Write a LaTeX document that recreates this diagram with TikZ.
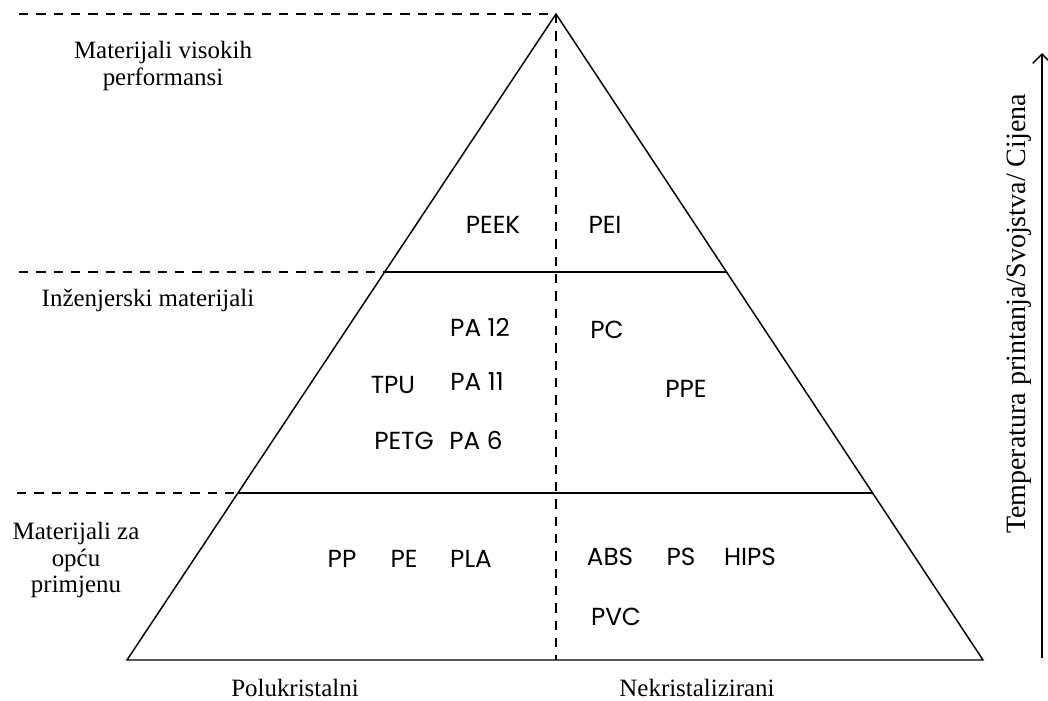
\documentclass[tikz,border=0pt]{standalone}
\usepackage{fontspec}
\setmainfont{Liberation Serif}
\newfontfamily\matfont{Poppins}
\usepackage{tikz}
\usetikzlibrary{arrows.meta}

\begin{document}
\begin{tikzpicture}
[x=0.75pt,y=-0.75pt,>={Straight Barb[length=7pt,width=14pt]},line width=1.1pt,
 guide/.style = {dash pattern=on 7pt off 6pt},
 mat/.style = {font=\matfont\fontsize{18.5}{22}\selectfont, inner sep=0pt},
 lvl/.style = {font=\fontsize{18.7}{20}\selectfont, align=center, inner sep=0pt},
]
\useasboundingbox (0,0) rectangle (1048,700);

% pyramid corners
\coordinate (T) at (556,14);
\coordinate (L) at (127,660);
\coordinate (R) at (983,660);
\coordinate (B) at (556,660);
% level lines
\coordinate (HL) at (384.7,272);
\coordinate (HR) at (726.5,272);
\coordinate (GL) at (237.9,493);
\coordinate (GR) at (872.6,493);
% left ends of the guides
\coordinate (T0) at (19,14);
\coordinate (H0) at (19,272);
\coordinate (G0) at (17,493);

\draw (T)--(L)--(R)--cycle;
\draw (HL)--(HR);
\draw (GL)--(GR);
\draw [guide](T)--(B);

\draw [guide](T0)--(T);
\draw [guide](H0)--(HL);
\draw [guide](G0)--(GL);

% levels
\node [lvl] (high) at (163,66) {Materijali visokih\\performansi};
\node [lvl] (eng) at (148,300) {Inženjerski materijali};
\node [lvl] (gen) at (76,560) {Materijali za\\opću\\primjenu};

% materials
\node [mat] (peek) at (493,225) {PEEK};
\node [mat] (pei) at (605,225) {PEI};
\node [mat] (pa12) at (480,327) {PA 12};
\node [mat] (pc) at (607,330) {PC};
\node [mat] (tpu) at (393,385) {TPU};
\node [mat] (pa11) at (477,382) {PA 11};
\node [mat] (ppe) at (686,389) {PPE};
\node [mat] (petg) at (404,441) {PETG};
\node [mat] (pa6) at (476,440) {PA 6};
\node [mat] (pp) at (342,559) {PP};
\node [mat] (pe) at (404,559) {PE};
\node [mat] (pla) at (471,559) {PLA};
\node [mat] (abs) at (610,557) {ABS};
\node [mat] (ps) at (681,557) {PS};
\node [mat] (hips) at (750,557) {HIPS};
\node [mat] (pvc) at (616,617) {PVC};

% bottom
\node [lvl,text depth=0pt,anchor=base] (semi) at (295,696) {Polukristalni};
\node [lvl,text depth=0pt,anchor=base] (amor) at (697,696) {Nekristalizirani};

% axis
\coordinate (A0) at (1042,658);
\coordinate (A1) at (1042,53);
\draw [->](A0)--(A1);
\node [lvl,rotate=90,font=\fontsize{21}{23}\selectfont] (axis) at (1019,314) {Temperatura printanja/Svojstva/ Cijena};

\end{tikzpicture}
\end{document}
